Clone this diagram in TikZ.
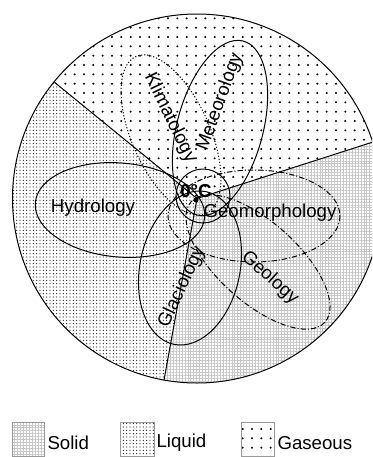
\documentclass[tikz,border=0pt]{standalone}
\usepackage{fontspec}
\setmainfont{Liberation Sans}
\usetikzlibrary{patterns.meta}

\tikzset{every picture/.style={line width=0.75pt}}
\tikzset{
  fieldtext/.style={font=\fontsize{14}{16}\selectfont, inner sep=0pt},
  solidfill/.style={pattern={Hatch[angle=0,distance=2.2pt,line width=0.3pt]}, pattern color=black!22},
  liquidfill/.style={pattern={Dots[distance=2.5pt,radius=0.45pt]}, pattern color=black!85},
  gasfill/.style={pattern={Dots[distance=7pt,radius=0.85pt]}, pattern color=black},
  dotline/.style={dash pattern={on 0.9pt off 1.4pt}},
  dashdotline/.style={dash pattern={on 4pt off 1.5pt on 0.8pt off 1.5pt}},
}

\begin{document}
\begin{tikzpicture}[x=0.75pt,y=0.75pt,yscale=-1,xscale=1]
\useasboundingbox (0,0) rectangle (372,457);
\clip (0,0) rectangle (372,457);

%Shape: Sector [id:dp1043] gaseous
\fill[gasfill] (197,198.5) -- ++(-17.8:184.5) arc[start angle=-17.8, end angle=-140.8, radius=184.5] -- cycle;
%Shape: Sector [id:dp1044] liquid
\fill[liquidfill] (197,198.5) -- ++(-140.8:184.5) arc[start angle=-140.8, end angle=-259.7, radius=184.5] -- cycle;
%Shape: Sector [id:dp1045] solid
\fill[solidfill] (197,198.5) -- ++(-259.7:184.5) arc[start angle=-259.7, end angle=-377.8, radius=184.5] -- cycle;

%Shape: Circle [id:dp2001] 
\draw (197,198.5) circle [radius=184.5];
%Straight Lines [id:da2002] 
\draw (197,198.5) -- ++(-140.8:184.5);
\draw (197,198.5) -- ++(-17.8:184.5);
\draw (197,198.5) -- ++(-259.7:184.5);

%Shape: Ellipse [id:dp3001] hydrology
\draw[rotate around={5:(120,210)}] (120,210) ellipse [x radius=85, y radius=47];
%Shape: Ellipse [id:dp3002] klimatology
\draw[dotline, rotate around={66:(171,135)}] (171,135) ellipse [x radius=86, y radius=39];
%Shape: Ellipse [id:dp3003] meteorology
\draw[rotate around={-75:(220,128)}] (220,128) ellipse [x radius=90, y radius=43];
%Shape: Ellipse [id:dp3004] geomorphology
\draw[dashdotline] (254,216) ellipse [x radius=86, y radius=46];
%Shape: Ellipse [id:dp3005] geology
\draw[dashdotline, rotate around={42:(258,262)}] (258,262) ellipse [x radius=90, y radius=40];
%Shape: Ellipse [id:dp3006] glaciology
\draw[rotate around={-78:(190,268)}] (190,268) ellipse [x radius=78, y radius=50];
%Shape: Circle [id:dp3007] 
\draw (203,196) circle [radius=27];
\fill (196,200) circle [radius=2.5];

% Labels
\node[fieldtext] (hydro) at (93,208) {Hydrology};
\node[fieldtext, rotate=-64] (klima) at (170,118) {Klimatology};
\node[fieldtext, rotate=70] (meteo) at (220,102) {Meteorology};
\node[fieldtext] (geomorph) at (270,213) {Geomorphology};
\node[fieldtext, rotate=-42] (geo) at (270,278) {Geology};
\node[fieldtext, rotate=65] (glacio) at (182,287) {Glaciology};
\node[font=\fontsize{14}{16}\bfseries, inner sep=0pt] (zero) at (196,191) {0°C};

% Legend
\draw[draw=black!40, solidfill] (12,422) rectangle (44,456);
\node[fieldtext, anchor=west] (solidkey) at (47,443) {Solid};
\draw[draw=black!40, liquidfill] (120,422) rectangle (154,456);
\node[fieldtext, anchor=west] (liquidkey) at (156,443) {Liquid};
\draw[draw=black!40, gasfill] (241,422) rectangle (274,456);
\node[fieldtext, anchor=west] (gaskey) at (277,443) {Gaseous};

\end{tikzpicture}
\end{document}
